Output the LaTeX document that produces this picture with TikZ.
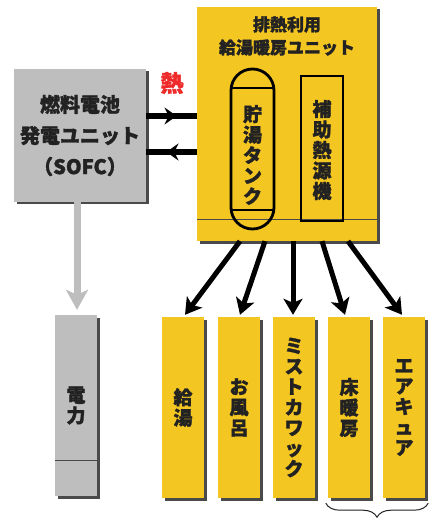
\documentclass[tikz,border=0pt]{standalone}
\usepackage{fontspec}
\setmainfont{Noto Sans CJK JP}[BoldFeatures={FakeBold=1.5}]
\usetikzlibrary{arrows.meta,shadows,decorations.markings,decorations.pathreplacing}
\definecolor{ylw}{HTML}{F4C622}
\definecolor{gry}{HTML}{BEBEBE}
\definecolor{shd}{HTML}{4A4A4A}
\definecolor{heatred}{HTML}{EE2A2A}
\definecolor{txt}{HTML}{222222}
\begin{document}
\begin{tikzpicture}[x=1pt,y=-1pt,
  box/.style={draw=none, inner sep=0pt, drop shadow={shadow xshift=2.5pt, shadow yshift=-2.5pt, fill=shd, opacity=1}},
  ybox/.style={box, fill=ylw},
  gbox/.style={box, fill=gry},
  vtext/.style={font=\bfseries\fontsize{19}{20.5}\selectfont, align=center, text=txt, inner sep=0pt},
  outbox/.style={ybox, minimum width=42pt, minimum height=181pt, vtext},
  heat/.style={line width=6.5pt, black},
  midtip/.style={postaction={decorate}, decoration={markings, mark=at position #1 with {\arrow{Stealth[length=12pt,width=17pt,inset=4pt]}}}},
  outarrow/.style={line width=5pt, -{Stealth[length=16pt,width=19pt,inset=4pt]}},
  outline/.style={line width=2.8pt, black}
]
\useasboundingbox (0,0) rectangle (430,518);

% main unit
\node[ybox, minimum width=180pt, minimum height=234pt] (main) at (287,124) {};
\draw[line width=0.6pt, shd] ([yshift=22pt]main.south west) -- ([yshift=22pt]main.south east);
\node[font=\bfseries\fontsize{17}{23}\selectfont, align=center, text=txt, inner sep=0pt] (title) at (287,36) {排熱利用\\給湯暖房ユニット};

% storage tank (capsule)
\draw[outline] (231,90.5) arc[start angle=180, end angle=360, radius=21.5] -- (274,207.5) arc[start angle=0, end angle=180, radius=21.5] -- cycle;
\draw[outline] (231,88) -- (274,88);
\draw[outline] (231,210) -- (274,210);
\node[vtext] (tank) at (252.5,155) {貯\\湯\\タ\\ン\\ク};

% auxiliary heat source
\node[draw, outline, minimum width=42pt, minimum height=145pt, inner sep=0pt] (aux) at (322,148.5) {};
\node[vtext] (auxt) at (322,150) {補\\助\\熱\\源\\機};

% SOFC unit
\node[gbox, minimum width=132pt, minimum height=133pt, font=\bfseries\fontsize{20}{31}\selectfont, align=center, text=txt] (sofc) at (80,135.5) {燃料電池\\発電ユニット\\（SOFC）};

% heat label and arrows
\node[font=\bfseries\fontsize{23}{23}\selectfont, text=heatred, inner sep=0pt] (heatlbl) at (172,83) {熱};
\coordinate (h1) at (0,116);
\coordinate (h2) at (0,152);
\draw[heat, midtip=0.6] (sofc.east |- h1) -- (main.west |- h1);
\draw[heat, midtip=0.6] (main.west |- h2) -- (sofc.east |- h2);

% power
\node[gbox, minimum width=42pt, minimum height=181pt, vtext] (power) at (76,405.5) {電\\力};
\draw[line width=0.8pt, shd] ([yshift=36pt]power.south west) -- ([yshift=36pt]power.south east);
\draw[line width=7pt, gry, -{Stealth[length=20pt,width=22pt,inset=5pt]}, shorten >=5pt] (sofc.south -| 77,0) -- (power.north -| 77,0);

% output boxes
\node[outbox] (b1) at (183,407.5) {給\\湯};
\node[outbox] (b2) at (239,407.5) {お\\風\\呂};
\node[outbox] (b3) at (294,407.5) {ミ\\ス\\ト\\カ\\ワ\\ッ\\ク};
\node[outbox] (b4) at (349,407.5) {床\\暖\\房};
\node[outbox] (b5) at (404,407.5) {エ\\ア\\キ\\ュ\\ア};

\coordinate (s1) at ([xshift=-47pt]main.south);
\coordinate (s2) at ([xshift=-22pt]main.south);
\coordinate (s3) at ([xshift=6pt]main.south);
\coordinate (s4) at ([xshift=35pt]main.south);
\coordinate (s5) at ([xshift=61pt]main.south);
\draw[outarrow] (s1) -- ([xshift=2pt,yshift=2pt]b1.north);
\draw[outarrow] (s2) -- ([xshift=1pt,yshift=2pt]b2.north);
\draw[outarrow] (s3) -- ([xshift=-1pt,yshift=2pt]b3.north);
\draw[outarrow] (s4) -- ([xshift=-4pt,yshift=2pt]b4.north);
\draw[outarrow] (s5) -- ([xshift=-2pt,yshift=2pt]b5.north);

% brace
\draw[line width=1pt, txt, decorate, decoration={brace, amplitude=14pt}] ([xshift=3pt,yshift=-5pt]b5.south east) -- ([xshift=-2pt,yshift=-5pt]b4.south west);
\end{tikzpicture}
\end{document}
